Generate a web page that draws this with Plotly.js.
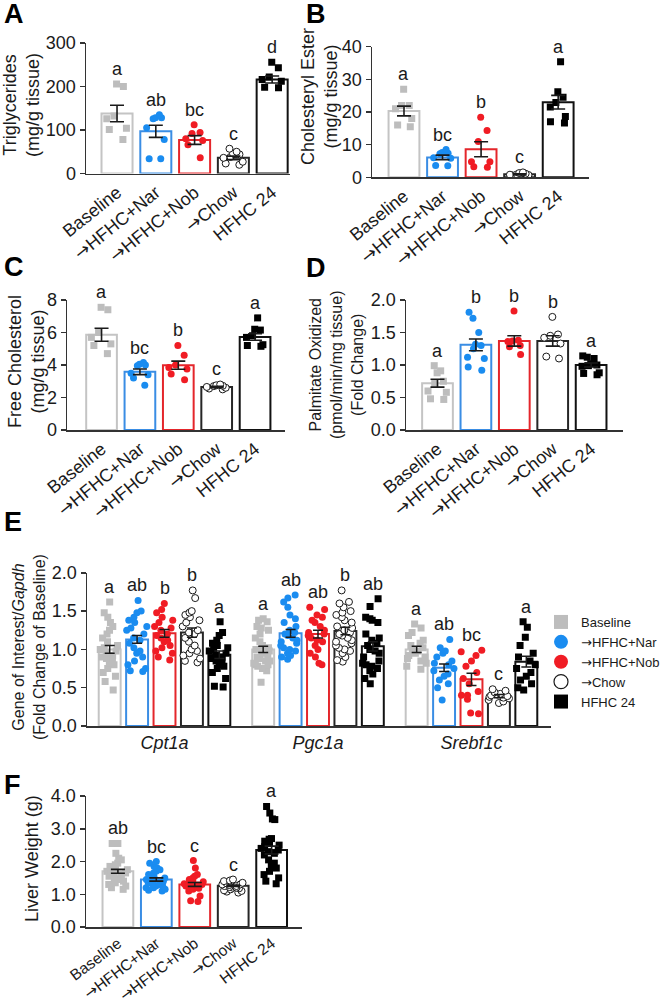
<!DOCTYPE html>
<html>
<head>
<meta charset="utf-8">
<script src="https://cdn.plot.ly/plotly-3.0.1.min.js"></script>
<style>
  body { margin: 0; background: #fff; }
  #chart { width: 667px; height: 1004px; }
</style>
</head>
<body>
<div id="chart"></div>
<script>
// groups and genes
const groups = ['Baseline', '\u2192HFHC+Nar', '\u2192HFHC+Nob', '\u2192Chow', 'HFHC 24'];
const genes = ['Cpt1a', 'Pgc1a', 'Srebf1c'];

// A - triglycerides (mg/g tissue)
const tgPoints = [
  [206, 200, 132, 126, 104, 101, 78],
  [135, 128, 128, 126, 105, 78, 34, 34],
  [112, 94, 92, 80, 76, 66, 36],
  [57, 50, 46, 44, 38, 36, 27, 23, 20],
  [256, 243, 222, 216, 212, 198, 197]
];
const tgMean = [138, 97, 77, 36, 216];
const tgSem = [19, 14, 10, 4, 8];
const tgLetters = ['a', 'ab', 'bc', 'c', 'd'];

// B - cholesteryl ester (mg/g tissue)
const cePoints = [
  [27, 22, 22, 21, 18, 16, 15.5],
  [8.5, 7.6, 7.4, 7.2, 6, 5.8, 3.5, 3.6],
  [18.4, 14.3, 11, 4.8, 3.2, 3.1, 4.8],
  [1.5, 1.3, 1.1, 0.9, 0.8, 0.6, 0.4, 0.7],
  [35.4, 26.2, 24.5, 22.9, 21.5, 18.6, 17, 16.6]
];
const ceMean = [20.3, 6.1, 8.6, 0.9, 23];
const ceSem = [1.5, 0.7, 2.3, 0.15, 2.1];
const ceLetters = ['a', 'bc', 'b', 'c', 'a'];

// C - free cholesterol (mg/g tissue)
const fcPoints = [
  [7.4, 7.55, 6.0, 5.7, 5.3, 5.2, 4.7],
  [4.15, 4.05, 4.0, 3.95, 3.5, 3.4, 3.2, 2.75],
  [5.2, 4.6, 4.0, 3.85, 3.75, 3.45, 3.1],
  [2.8, 2.75, 2.7, 2.72, 2.6, 2.55, 2.5, 2.65],
  [6.9, 6.15, 6.2, 5.8, 5.7, 5.25, 5.15, 5.2]
];
const fcMean = [5.86, 3.58, 3.99, 2.65, 5.72];
const fcSem = [0.4, 0.17, 0.25, 0.04, 0.2];
const fcLetters = ['a', 'bc', 'b', 'c', 'a'];

// D - palmitate oxidized (fold change)
const paPoints = [
  [0.99, 0.91, 0.88, 0.75, 0.72, 0.6, 0.58, 0.48, 0.47],
  [1.81, 1.72, 1.5, 1.32, 1.3, 1.25, 1.12, 1.1, 0.97, 0.92],
  [1.83, 1.37, 1.38, 1.36, 1.3, 1.28, 1.16],
  [1.74, 1.47, 1.45, 1.42, 1.33, 1.13, 1.1],
  [1.12, 1.14, 1.1, 1.02, 1.0, 0.99, 0.98, 0.87, 0.85, 0.88]
];
const paMean = [0.72, 1.31, 1.37, 1.37, 1.0];
const paSem = [0.06, 0.09, 0.08, 0.08, 0.03];
const paLetters = ['a', 'b', 'b', 'b', 'a'];

// E - gene expression, [gene][group]
const genePoints = [
  [
    [1.62, 1.48, 1.42, 1.35, 1.3, 1.25, 1.2, 1.15, 1.1, 1.05, 1.02, 1.0, 0.98, 0.95, 0.92, 0.9, 0.88, 0.85, 0.82, 0.8, 0.75, 0.7, 0.65, 0.58, 0.47],
    [1.64, 1.5, 1.48, 1.42, 1.38, 1.35, 1.3, 1.28, 1.25, 1.2, 1.15, 1.12, 1.08, 1.02, 0.98, 0.95, 0.9, 0.85, 0.8, 0.75, 0.72, 0.71],
    [1.6, 1.52, 1.48, 1.42, 1.38, 1.35, 1.3, 1.28, 1.25, 1.2, 1.18, 1.15, 1.12, 1.1, 1.05, 1.02, 0.98, 0.95, 0.9, 0.86],
    [1.77, 1.67, 1.5, 1.48, 1.45, 1.42, 1.38, 1.35, 1.3, 1.25, 1.22, 1.2, 1.15, 1.1, 1.05, 1.0, 0.98, 0.95, 0.92, 0.88, 0.85, 0.83],
    [1.36, 1.22, 1.18, 1.12, 1.08, 1.05, 1.02, 1.0, 0.98, 0.95, 0.92, 0.9, 0.88, 0.85, 0.82, 0.8, 0.78, 0.75, 0.7, 0.62, 0.52, 0.51]
  ],
  [
    [1.4, 1.38, 1.36, 1.3, 1.28, 1.25, 1.2, 1.15, 1.1, 1.05, 1.02, 1.0, 0.98, 0.95, 0.92, 0.9, 0.88, 0.85, 0.85, 0.82, 0.8, 0.8, 0.78, 0.75, 0.72, 0.57],
    [1.71, 1.67, 1.62, 1.55, 1.45, 1.4, 1.35, 1.3, 1.25, 1.22, 1.2, 1.18, 1.15, 1.12, 1.1, 1.08, 1.05, 1.02, 1.0, 0.98, 0.95, 0.92, 0.9, 0.87],
    [1.55, 1.52, 1.45, 1.42, 1.38, 1.35, 1.3, 1.25, 1.22, 1.2, 1.18, 1.15, 1.12, 1.1, 1.05, 1.0, 0.95, 0.9, 0.82, 0.8],
    [1.77, 1.62, 1.6, 1.55, 1.5, 1.48, 1.45, 1.42, 1.38, 1.35, 1.3, 1.28, 1.25, 1.22, 1.2, 1.18, 1.15, 1.12, 1.1, 1.08, 1.05, 1.02, 1.0, 0.98, 0.95, 0.9, 0.86, 0.84],
    [1.66, 1.56, 1.42, 1.4, 1.38, 1.35, 1.2, 1.15, 1.12, 1.08, 1.05, 1.0, 0.98, 0.95, 0.9, 0.85, 0.82, 0.8, 0.78, 0.75, 0.72, 0.68, 0.62, 0.55]
  ],
  [
    [1.33, 1.28, 1.22, 1.18, 1.12, 1.08, 1.05, 1.02, 1.0, 0.98, 0.95, 0.92, 0.9, 0.88, 0.85, 0.82, 0.78, 0.74],
    [1.13, 1.02, 0.98, 0.95, 0.9, 0.85, 0.82, 0.8, 0.75, 0.72, 0.68, 0.65, 0.6, 0.55, 0.5, 0.34],
    [0.99, 0.97, 0.92, 0.85, 0.78, 0.7, 0.62, 0.55, 0.45, 0.4, 0.4, 0.35, 0.17, 0.16],
    [0.48, 0.46, 0.44, 0.42, 0.41, 0.4, 0.39, 0.38, 0.37, 0.36, 0.34, 0.32, 0.3],
    [1.36, 1.29, 1.16, 1.05, 0.95, 0.9, 0.85, 0.8, 0.75, 0.7, 0.65, 0.6, 0.55, 0.5, 0.47]
  ]
];
const geneMean = [
  [1.0, 1.13, 1.21, 1.22, 0.93],
  [1.0, 1.21, 1.2, 1.24, 1.04],
  [1.0, 0.76, 0.61, 0.39, 0.84]
];
const geneSem = [
  [0.05, 0.05, 0.05, 0.06, 0.05],
  [0.04, 0.05, 0.05, 0.05, 0.06],
  [0.04, 0.05, 0.08, 0.02, 0.07]
];
const geneLetters = [
  ['a', 'ab', 'b', 'b', 'a'],
  ['a', 'ab', 'ab', 'b', 'ab'],
  ['a', 'ab', 'bc', 'c', 'a']
];

// F - liver weight (g)
const lwPoints = [
  [2.55, 2.55, 2.25, 2.1, 2.05, 1.95, 1.9, 1.85, 1.8, 1.75, 1.7, 1.7, 1.65, 1.6, 1.6, 1.55, 1.5, 1.5, 1.45, 1.4, 1.35, 1.3, 1.25, 1.2, 1.15],
  [2.0, 1.95, 1.85, 1.8, 1.75, 1.7, 1.65, 1.6, 1.55, 1.5, 1.5, 1.45, 1.4, 1.4, 1.35, 1.35, 1.3, 1.3, 1.25, 1.25, 1.2, 1.2, 1.15, 1.12, 1.1],
  [2.03, 1.8, 1.6, 1.55, 1.5, 1.45, 1.4, 1.38, 1.35, 1.32, 1.3, 1.3, 1.28, 1.25, 1.25, 1.22, 1.2, 1.18, 1.15, 1.1, 0.95, 0.8, 0.78],
  [1.45, 1.42, 1.4, 1.38, 1.35, 1.33, 1.3, 1.3, 1.28, 1.25, 1.25, 1.22, 1.2, 1.2, 1.18, 1.15, 1.12, 1.1, 1.08, 1.05],
  [3.68, 3.48, 3.3, 3.28, 2.7, 2.68, 2.62, 2.55, 2.5, 2.45, 2.4, 2.35, 2.3, 2.25, 2.2, 2.05, 1.95, 1.85, 1.8, 1.7, 1.6, 1.5, 1.4, 1.32]
];
const lwMean = [1.7, 1.45, 1.3, 1.26, 2.35];
const lwSem = [0.06, 0.05, 0.06, 0.02, 0.12];
const lwLetters = ['ab', 'bc', 'c', 'c', 'a'];

// styles per group
const barLine = ['#c4c4c4', '#3a8de4', '#e4262b', '#262626', '#111111'];
const dotFill = ['#bdbdbd', '#1a8cf0', '#f01c24', '#ffffff', '#000000'];
const dotEdge = ['#bdbdbd', '#1a8cf0', '#f01c24', '#1a1a1a', '#000000'];
const dotShape = ['square', 'circle', 'circle', 'circle', 'square'];

const W = 667, H = 1004;
const px = v => v / W;
const py = v => 1 - v / H;
const sfx = n => (n === 1 ? '' : String(n));
const FONT = 'Liberation Sans, Arial, Helvetica, sans-serif';
const INK = '#1a1a1a';
const BARGAP = 0.107, GROUPGAP = 0.2;

// draw the arrow with a font whose arrow sits at full height
const arrowLabel = s => s.replace('\u2192', '<span style="font-family:DejaVu Sans">\u2192</span>');
const groupLabels = groups.map(arrowLabel);

const panels = [
  {n: 1, tag: 'A', pts: tgPoints, mean: tgMean, sem: tgSem, sig: tgLetters,
   xd: [86, 290], yd: [43, 173.5], yr: [0, 300], dtick: 100, fmt: '', xr: [-0.8, 4.46],
   title: 'Triglycerides<br>(mg/g tissue)', tsize: 18, tpos: [21, 105], tagpos: [2, 14], xfont: 18, xang: -39},
  {n: 2, tag: 'B', pts: cePoints, mean: ceMean, sem: ceSem, sig: ceLetters,
   xd: [372, 589], yd: [46.7, 177.3], yr: [0, 40], dtick: 10, fmt: '', xr: [-0.83, 4.8],
   title: 'Cholesteryl Ester<br>(mg/g tissue)', tsize: 18, tpos: [319, 97], tagpos: [304, 14], xfont: 18, xang: -39},
  {n: 3, tag: 'C', pts: fcPoints, mean: fcMean, sem: fcSem, sig: fcLetters,
   xd: [67, 285], yd: [300, 430], yr: [0, 8], dtick: 2, fmt: '', xr: [-0.9, 4.78],
   title: 'Free Cholesterol<br>(mg/g tissue)', tsize: 18, tpos: [26, 362], tagpos: [2, 267], xfont: 18, xang: -39},
  {n: 4, tag: 'D', pts: paPoints, mean: paMean, sem: paSem, sig: paLetters,
   xd: [406, 623], yd: [300, 430], yr: [0, 2], dtick: 0.5, fmt: '.1f', xr: [-0.82, 4.83],
   title: 'Palmitate Oxidized<br>(pmol/min/mg tissue)<br>(Fold Change)', tsize: 16, tpos: [336, 365], tagpos: [304, 268], xfont: 18, xang: -39},
  {n: 6, tag: 'F', pts: lwPoints, mean: lwMean, sem: lwSem, sig: lwLetters,
   xd: [86, 302], yd: [796, 927], yr: [0, 4], dtick: 1, fmt: '.1f', xr: [-0.83, 4.79],
   title: 'Liver Weight (g)', tsize: 18, tpos: [32, 859], tagpos: [2, 785], xfont: 15.5, xang: -37}
];

const data = [];
const layout = {
  width: W, height: H,
  margin: {l: 0, r: 0, t: 0, b: 0},
  paper_bgcolor: '#fff', plot_bgcolor: 'rgba(0,0,0,0)',
  font: {family: FONT, size: 18, color: INK},
  barmode: 'group', bargap: BARGAP, bargroupgap: GROUPGAP,
  boxmode: 'group', boxgap: BARGAP, boxgroupgap: GROUPGAP,
  showlegend: true,
  legend: {x: px(541), y: py(607), xanchor: 'left', yanchor: 'top',
           font: {size: 13, family: FONT}, itemsizing: 'trace',
           bgcolor: 'rgba(0,0,0,0)', tracegroupgap: 0},
  annotations: []
};

function yAxis(p) {
  return {
    domain: [py(p.yd[1]), py(p.yd[0])], anchor: 'x' + sfx(p.n),
    range: p.yr, dtick: p.dtick, tickformat: p.fmt, tick0: 0,
    showline: true, linecolor: '#333', linewidth: 1.5,
    ticks: 'outside', ticklen: 5, tickwidth: 1.5, tickcolor: '#333',
    showgrid: false, zeroline: false, fixedrange: true,
    tickfont: {size: 18, color: INK}
  };
}

function dotMarker(g, size) {
  return {symbol: dotShape[g], size: size, color: dotFill[g],
          line: {color: dotEdge[g], width: g === 3 ? 1 : 0}};
}

function addTitle(text, pos, size) {
  layout.annotations.push({xref: 'paper', yref: 'paper', x: px(pos[0]), y: py(pos[1]),
    xanchor: 'center', yanchor: 'middle', textangle: -90, showarrow: false,
    text: text, font: {size: size, color: INK}});
}

function addTag(tag, pos) {
  layout.annotations.push({xref: 'paper', yref: 'paper', x: px(pos[0]), y: py(pos[1]),
    xanchor: 'left', yanchor: 'middle', showarrow: false,
    text: '<b>' + tag + '</b>', font: {size: 27, color: '#000'}});
}

// panels A-D and F
panels.forEach(p => {
  const s = sfx(p.n);
  const over = sfx(p.n + 6);
  layout['xaxis' + s] = {
    domain: [px(p.xd[0]), px(p.xd[1])], anchor: 'y' + s,
    type: 'category', categoryorder: 'array', categoryarray: groups, range: p.xr,
    tickmode: 'array', tickvals: groups, ticktext: groupLabels,
    showline: true, linecolor: '#333', linewidth: 1.5, ticks: '',
    tickangle: p.xang, tickfont: {size: p.xfont, color: INK},
    showgrid: false, zeroline: false, fixedrange: true
  };
  layout['yaxis' + s] = yAxis(p);
  layout['yaxis' + over] = {overlaying: 'y' + s, anchor: 'x' + s, range: p.yr,
                            visible: false, fixedrange: true};

  data.push({type: 'bar', x: groups, y: p.mean, width: 0.8,
    marker: {color: '#fff', line: {color: barLine, width: 2}},
    xaxis: 'x' + s, yaxis: 'y' + s, showlegend: false, hoverinfo: 'skip'});

  p.pts.forEach((vals, g) => {
    data.push({type: 'box', x: vals.map(() => groups[g]), y: vals,
      boxpoints: 'all', jitter: 0.9, pointpos: 0, width: 0.7,
      offsetgroup: 'pts', alignmentgroup: 'al' + p.n,
      fillcolor: 'rgba(0,0,0,0)', line: {width: 0, color: 'rgba(0,0,0,0)'},
      marker: dotMarker(g, 7),
      xaxis: 'x' + s, yaxis: 'y' + s, showlegend: false, hoverinfo: 'skip'});
    layout.annotations.push({xref: 'x' + s, yref: 'y' + s, x: g,
      y: Math.max(...vals, p.mean[g] + p.sem[g]), yanchor: 'bottom', yshift: 3,
      showarrow: false, text: p.sig[g], font: {size: 18, color: INK}});
  });

  // error bars on an overlay axis so they sit above the dots
  data.push({type: 'bar', x: groups, y: p.mean, width: 0.8,
    marker: {color: 'rgba(0,0,0,0)', line: {width: 0}},
    error_y: {type: 'data', array: p.sem, visible: true, color: INK, thickness: 1.6, width: 7},
    xaxis: 'x' + s, yaxis: 'y' + over, showlegend: false, hoverinfo: 'skip'});

  addTitle(p.title, p.tpos, p.tsize);
  addTag(p.tag, p.tagpos);
});

// panel E - grouped genes
const pe = {n: 5, yd: [572.8, 726], yr: [0, 2], dtick: 0.5, fmt: '.1f'};
layout.xaxis5 = {
  domain: [px(87), px(551)], anchor: 'y5',
  type: 'category', categoryorder: 'array', categoryarray: genes, range: [-0.505, 2.518],
  showline: true, linecolor: '#333', linewidth: 1.5, ticks: '',
  tickfont: {size: 18, color: INK, style: 'italic'},
  showgrid: false, zeroline: false, fixedrange: true
};
layout.yaxis5 = yAxis(pe);
layout.yaxis11 = {overlaying: 'y5', anchor: 'x5', range: pe.yr, visible: false, fixedrange: true};

groups.forEach((name, g) => {
  data.push({type: 'bar', x: genes, y: geneMean.map(m => m[g]),
    marker: {color: '#fff', line: {color: barLine[g], width: 2}},
    xaxis: 'x5', yaxis: 'y5', showlegend: false, hoverinfo: 'skip'});
});
groups.forEach((name, g) => {
  const xs = [], ys = [];
  genes.forEach((gene, k) => {
    genePoints[k][g].forEach(v => { xs.push(gene); ys.push(v); });
  });
  data.push({type: 'box', x: xs, y: ys, boxpoints: 'all', jitter: 1, pointpos: 0,
    offsetgroup: 'g' + g, alignmentgroup: 'genes',
    fillcolor: 'rgba(0,0,0,0)', line: {width: 0, color: 'rgba(0,0,0,0)'},
    marker: dotMarker(g, 7),
    xaxis: 'x5', yaxis: 'y5', showlegend: false, hoverinfo: 'skip'});
});
groups.forEach((name, g) => {
  data.push({type: 'bar', x: genes, y: geneMean.map(m => m[g]),
    marker: {color: 'rgba(0,0,0,0)', line: {width: 0}},
    error_y: {type: 'data', array: geneSem.map(m => m[g]), visible: true,
              color: INK, thickness: 1.5, width: 5},
    xaxis: 'x5', yaxis: 'y11', showlegend: false, hoverinfo: 'skip'});
});
// legend entries
groups.forEach((name, g) => {
  data.push({type: 'scatter', mode: 'markers', x: [null], y: [null], name: groupLabels[g],
    marker: {symbol: dotShape[g], size: 14, color: dotFill[g],
             line: {color: dotEdge[g], width: g === 3 ? 1.2 : 0}},
    xaxis: 'x5', yaxis: 'y5', hoverinfo: 'skip'});
});
genes.forEach((gene, k) => {
  groups.forEach((name, g) => {
    const off = (1 - BARGAP) * (-0.5 + (g + 0.5) / groups.length);
    layout.annotations.push({xref: 'x5', yref: 'y5', x: k + off,
      y: Math.max(...genePoints[k][g], geneMean[k][g] + geneSem[k][g]),
      yanchor: 'bottom', yshift: 3, showarrow: false,
      text: geneLetters[k][g], font: {size: 18, color: INK}});
  });
});
addTitle('Gene of Interest/<i>Gapdh</i><br>(Fold Change of Baseline)', [29, 647], 16);
addTag('E', [2, 522]);

Plotly.newPlot('chart', data, layout, {staticPlot: true, displayModeBar: false});
</script>
</body>
</html>
